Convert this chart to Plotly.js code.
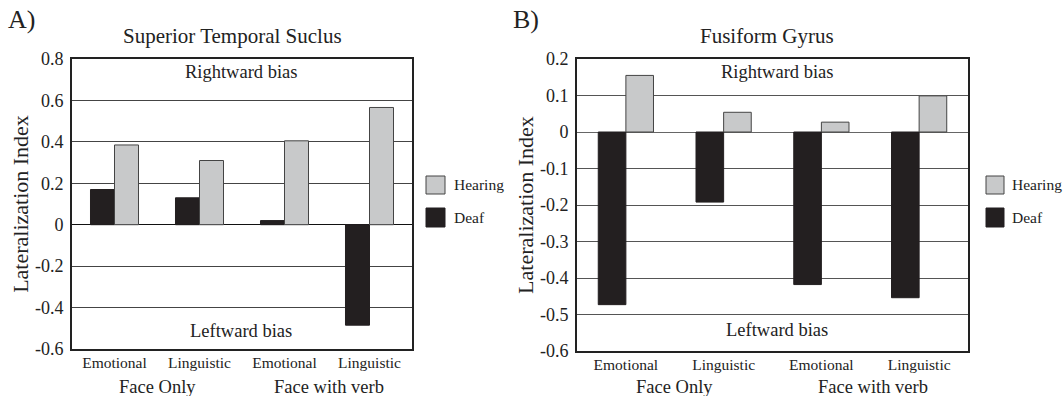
<!DOCTYPE html>
<html>
<head>
<meta charset="utf-8">
<script src="https://cdn.plot.ly/plotly-3.0.1.min.js"></script>
<style>
  html, body { margin: 0; padding: 0; background: #fff; }
  #chart { width: 1063px; height: 396px; }
</style>
</head>
<body>
<div id="chart"></div>
<script>
// ---- data ----
const conditions = ["Emotional", "Linguistic", "Emotional", "Linguistic"];
const groups = ["Face Only", "Face Only", "Face with verb", "Face with verb"];
const groupNames = ["Face Only", "Face with verb"];
const seriesNames = ["Deaf", "Hearing"];

// Superior Temporal Suclus
const stsDeaf = [0.17, 0.13, 0.02, -0.485];
const stsHearing = [0.385, 0.31, 0.405, 0.566];

// Fusiform Gyrus
const fgDeaf = [-0.473, -0.192, -0.418, -0.454];
const fgHearing = [0.155, 0.054, 0.027, 0.099];

const stsTicks = [0.8, 0.6, 0.4, 0.2, 0, -0.2, -0.4, -0.6];
const stsTickText = ["0.8", "0.6", "0.4", "0.2", "0", "-0.2", "-0.4", "-0.6"];
const fgTicks = [0.2, 0.1, 0, -0.1, -0.2, -0.3, -0.4, -0.5, -0.6];
const fgTickText = ["0.2", "0.1", "0", "-0.1", "-0.2", "-0.3", "-0.4", "-0.5", "-0.6"];

// ---- styling ----
const W = 1063, H = 396;
const FONT = "'Liberation Serif', 'Times New Roman', serif";
const DEAF_COLOR = "#231f20";
const HEARING_COLOR = "#c8c9ca";
const px = v => v / W;
const py = v => 1 - v / H;

const keys = conditions.map((c, i) => groups[i] + "|" + c);

function bars(name, y, color, lineColor, xa, ya) {
  return {
    type: "bar", name: name, x: keys, y: y,
    xaxis: xa, yaxis: ya,
    marker: { color: color, line: { color: lineColor, width: 1 } },
    showlegend: false, hoverinfo: "x+y"
  };
}

const data = [
  bars(seriesNames[0], stsDeaf, DEAF_COLOR, DEAF_COLOR, "x", "y"),
  bars(seriesNames[1], stsHearing, HEARING_COLOR, "#444", "x", "y"),
  bars(seriesNames[0], fgDeaf, DEAF_COLOR, DEAF_COLOR, "x2", "y2"),
  bars(seriesNames[1], fgHearing, HEARING_COLOR, "#444", "x2", "y2")
];

function xAxis(domain, anchor) {
  return {
    domain: domain, anchor: anchor, type: "category",
    tickvals: keys, ticktext: conditions,
    tickfont: { family: FONT, size: 15.5, color: "#222" },
    ticks: "", ticklabelstandoff: -2,
    showline: true, mirror: true, linecolor: "#222", linewidth: 2,
    showgrid: false, zeroline: false, fixedrange: true
  };
}
function yAxis(domain, anchor, range, tv, tt, gridColor, zeroColor) {
  return {
    domain: domain, anchor: anchor, range: range,
    tickvals: tv, ticktext: tt,
    tickfont: { family: FONT, size: 18, color: "#222" },
    ticks: "", ticklabelstandoff: 3,
    showline: true, mirror: true, linecolor: "#222", linewidth: 2,
    showgrid: true, gridcolor: gridColor, gridwidth: 1,
    zeroline: true, zerolinecolor: zeroColor, zerolinewidth: 1,
    title: { text: "Lateralization Index", font: { family: FONT, size: 22, color: "#222" }, standoff: 0 },
    automargin: false, fixedrange: true
  };
}

const T = (text, x, y, size, extra) => Object.assign({
  text: text, xref: "paper", yref: "paper", x: px(x), y: py(y),
  xanchor: "center", yanchor: "middle", showarrow: false,
  font: { family: FONT, size: size, color: "#222" }
}, extra || {});

const annotations = [
  T("A)", 21, 19, 26),
  T("B)", 526, 19, 26),
  T("Superior Temporal Suclus", 232, 36, 21),
  T("Fusiform Gyrus", 767, 36, 21),
  T("Rightward bias", 241, 72, 18.5),
  T("Leftward bias", 241, 331, 18.5),
  T("Rightward bias", 777, 72, 18.5),
  T("Leftward bias", 777, 330, 18.5),
  // group labels
  T(groupNames[0], 157, 387, 18.5),
  T(groupNames[1], 329, 387, 18.5),
  T(groupNames[0], 674, 387, 18.5),
  T(groupNames[1], 873, 387, 18.5),
  // legends
  T(seriesNames[1], 452, 185, 15.5, { xanchor: "left" }),
  T(seriesNames[0], 452, 217, 15.5, { xanchor: "left" }),
  T(seriesNames[1], 1010, 185, 15.5, { xanchor: "left" }),
  T(seriesNames[0], 1010, 217, 15.5, { xanchor: "left" })
];

const box = (x0, y0, x1, y1, fill, line) => ({
  type: "rect", xref: "paper", yref: "paper",
  x0: px(x0), x1: px(x1), y0: py(y1), y1: py(y0),
  fillcolor: fill, line: { color: line, width: 1 }
});

const shapes = [
  box(426, 176, 445, 194, HEARING_COLOR, "#444"),
  box(426, 208, 445, 227, DEAF_COLOR, DEAF_COLOR),
  box(986, 176, 1004, 194, HEARING_COLOR, "#444"),
  box(986, 208, 1004, 227, DEAF_COLOR, DEAF_COLOR)
];

const layout = {
  width: W, height: H,
  margin: { l: 0, r: 0, t: 0, b: 0 },
  paper_bgcolor: "#fff", plot_bgcolor: "#fff",
  barmode: "group", bargap: 0.435, bargroupgap: 0,
  showlegend: false,
  xaxis: xAxis([px(72), px(412)], "y"),
  yaxis: yAxis([py(349), py(59)], "x", [-0.6, 0.8], stsTicks, stsTickText, "#444", "#111"),
  xaxis2: xAxis([px(577), px(968)], "y2"),
  yaxis2: yAxis([py(351), py(59)], "x2", [-0.6, 0.2], fgTicks, fgTickText, "#555", "#666"),
  annotations: annotations,
  shapes: shapes,
  font: { family: FONT, color: "#222" }
};

Plotly.newPlot("chart", data, layout, { displayModeBar: false, staticPlot: true });
</script>
</body>
</html>
